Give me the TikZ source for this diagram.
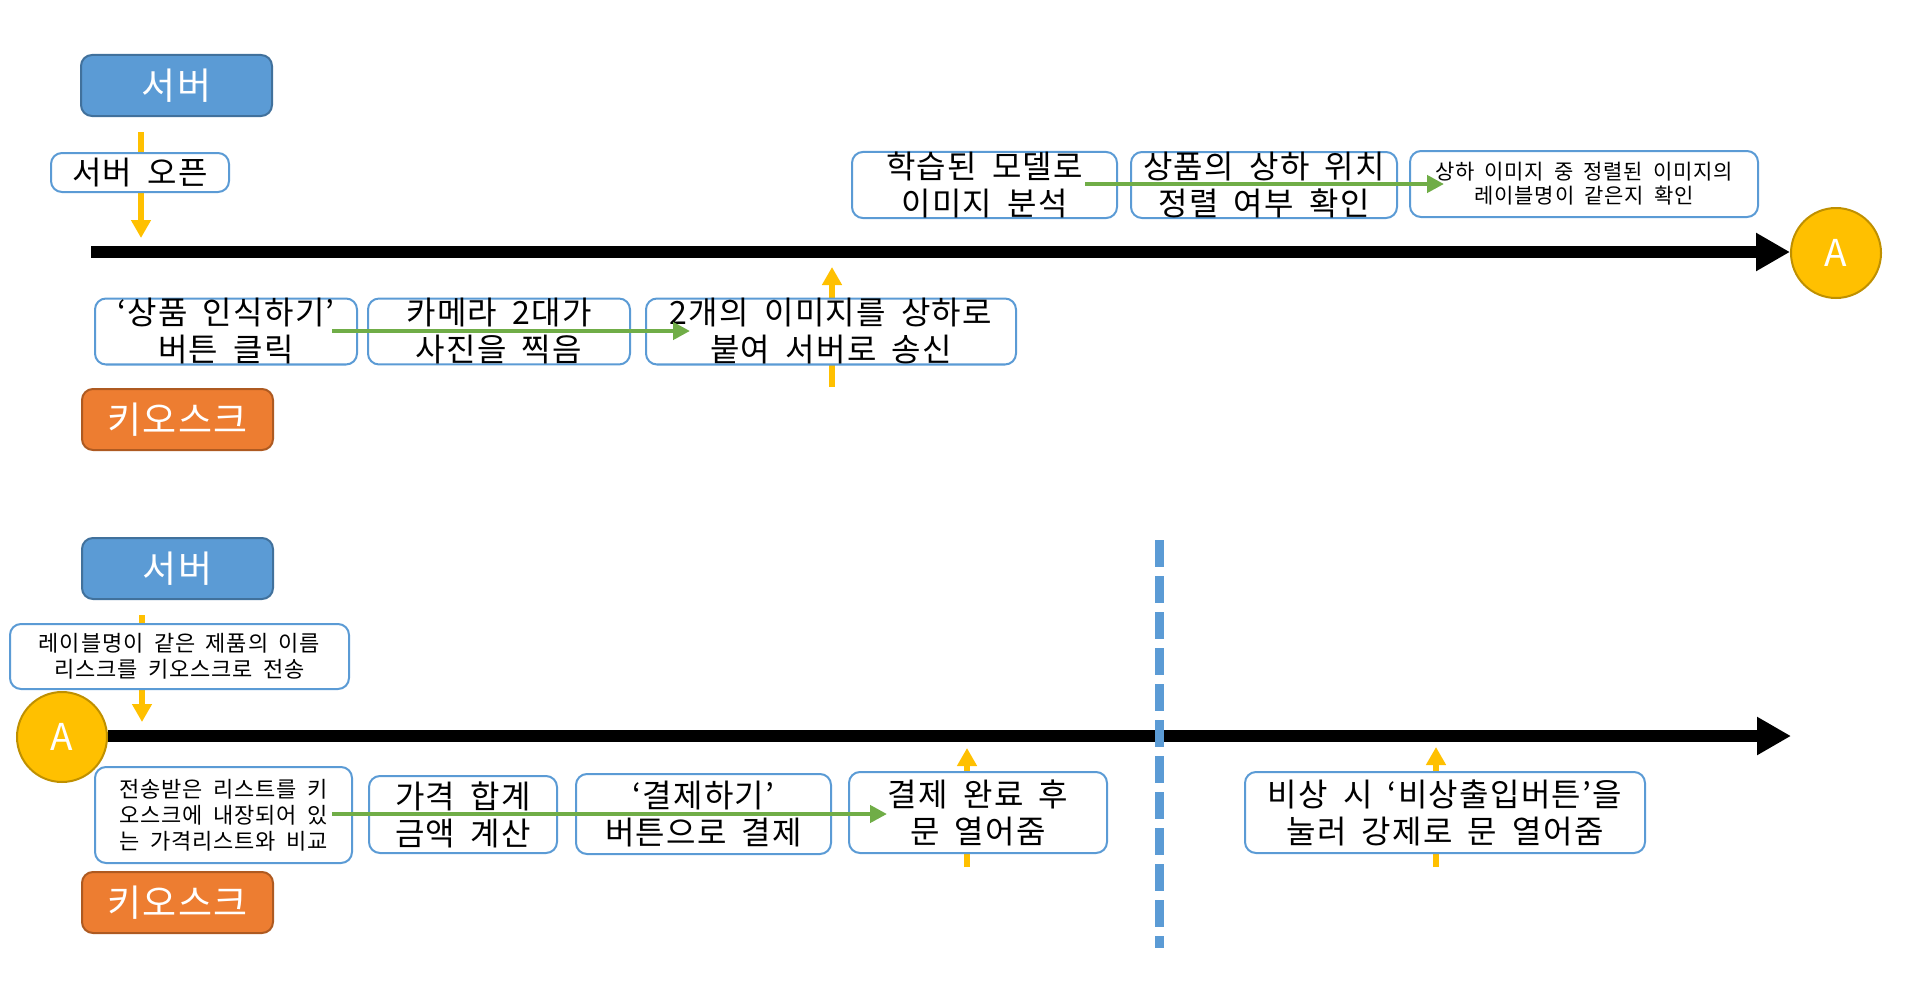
\documentclass[tikz,border=0pt]{standalone}
\usepackage{fontspec}
\setmainfont[LetterSpace=4,WordSpace=1.8]{Noto Sans CJK KR}
\usetikzlibrary{arrows.meta}
\definecolor{cblue}{HTML}{5B9BD5}
\definecolor{cblued}{HTML}{41719C}
\definecolor{corange}{HTML}{ED7D31}
\definecolor{corangee}{HTML}{AE5A21}
\definecolor{cyellow}{HTML}{FFC000}
\definecolor{cyellowd}{HTML}{BF9000}
\definecolor{cgreen}{HTML}{70AD47}
\newcommand{\FontBig}{\fontsize{37}{40}\selectfont}
\newcommand{\FontMed}{\fontsize{32}{37}\selectfont}
\newcommand{\FontSml}{\fontsize{21}{24}\selectfont}
\newcommand{\FontSmlB}{\fontsize{22}{26}\selectfont}
\tikzset{
  actor/.style={rounded corners=11pt, line width=2pt, text=white, font=\FontBig,
    minimum width=191pt, minimum height=61pt, inner sep=0pt},
  server/.style={actor, fill=cblue, draw=cblued},
  kiosk/.style={actor, fill=corange, draw=corangee},
  stepbox/.style={draw=cblue, line width=2pt, rounded corners=11pt, fill=white,
    align=center, inner sep=0pt, font=\FontMed, text=black},
  smallbox/.style={stepbox, font=\FontSml},
  yarrow/.style={draw=cyellow, line width=6pt, -{Triangle[length=18pt,width=19pt]}},
  garrow/.style={draw=cgreen, line width=4.5pt, -{Triangle[length=17pt,width=17pt]}},
  timeline/.style={draw=black, line width=12pt, -{Triangle[length=34pt,width=36pt]}},
  circA/.style={circle, fill=cyellow, draw=cyellowd, line width=2pt, minimum size=90pt,
    inner sep=0pt, text=white, font=\FontBig},
  divider/.style={draw=cblue, line width=9pt, dash pattern=on 27pt off 9pt}
}
\begin{document}
\begin{tikzpicture}[x=1pt,y=-1pt]
\useasboundingbox (0,0) rectangle (1908,998);
% ---------- top section ----------
\coordinate (y1s) at (141,132);
\coordinate (y1e) at (141,238);
\draw[yarrow] (y1s) -- (y1e);
\coordinate (y2s) at (832,387);
\coordinate (y2e) at (832,267);
\draw[yarrow] (y2s) -- (y2e);
\coordinate (t1s) at (91,252);
\coordinate (t1e) at (1790,252);
\draw[timeline] (t1s) -- (t1e);
\node[circA] (A1) at (1836,253) {A};

\node[server] (srv1) at (176.5,85.5) {서버};
\node[stepbox, minimum width=178pt, minimum height=39pt] (open) at (140,172.5) {서버 오픈};
\node[stepbox, minimum width=265pt, minimum height=66pt] (b1) at (984.5,185) {학습된 모델로\\이미지 분석};
\node[stepbox, minimum width=266pt, minimum height=66pt] (b2) at (1264,185) {상품의 상하 위치\\정렬 여부 확인};
\node[smallbox, minimum width=348pt, minimum height=66pt] (b3) at (1584,184) {상하 이미지 중 정렬된 이미지의\\레이블명이 같은지 확인};
\coordinate (g1s) at (1085,184);
\coordinate (g1e) at (1444,184);
\draw[garrow] (g1s) -- (g1e);

\node[stepbox, minimum width=262pt, minimum height=65pt] (c1) at (226,331.5) {‘상품 인식하기’\\버튼 클릭};
\node[stepbox, minimum width=262pt, minimum height=65pt] (c2) at (499,331.5) {카메라 2대가\\사진을 찍음};
\node[stepbox, minimum width=370pt, minimum height=65pt] (c3) at (831,331.5) {2개의 이미지를 상하로\\붙여 서버로 송신};
\coordinate (g2s) at (332,331);
\coordinate (g2e) at (690,331);
\draw[garrow] (g2s) -- (g2e);
\node[kiosk] (kio1) at (177.5,419.5) {키오스크};

% ---------- bottom section ----------
\coordinate (y3s) at (142,615);
\coordinate (y3e) at (142,722);
\draw[yarrow] (y3s) -- (y3e);
\coordinate (y4s) at (967,867);
\coordinate (y4e) at (967,748);
\draw[yarrow] (y4s) -- (y4e);
\coordinate (y5s) at (1436,867);
\coordinate (y5e) at (1436,747);
\draw[yarrow] (y5s) -- (y5e);

\node[circA] (A2) at (62,737) {A};
\coordinate (t2e) at (1791,736);
\draw[timeline] (A2.east |- t2e) -- (t2e);

\node[server] (srv2) at (177.5,568.5) {서버};
\node[smallbox, font=\FontSmlB, minimum width=339pt, minimum height=65pt] (lab) at (179.5,656.5) {레이블명이 같은 제품의 이름\\리스크를 키오스크로 전송};

\node[stepbox, font=\FontSmlB, align=left, minimum width=257pt, minimum height=96pt] (d1) at (223.5,815) {전송받은 리스트를 키\\오스크에 내장되어 있\\는 가격리스트와 비교};
\node[stepbox, minimum width=188pt, minimum height=77pt] (d2) at (463,814.5) {가격 합계\\금액 계산};
\node[stepbox, minimum width=255pt, minimum height=80pt] (d3) at (703.5,814) {‘결제하기’\\버튼으로 결제};
\node[stepbox, minimum width=258pt, minimum height=81pt] (d4) at (978,812.5) {결제 완료 후\\문 열어줌};
\node[stepbox, minimum width=400pt, minimum height=81pt] (d5) at (1445,812.5) {비상 시 ‘비상출입버튼’을\\눌러 강제로 문 열어줌};
\coordinate (g3s) at (332,814);
\coordinate (g3e) at (887,814);
\draw[garrow] (g3s) -- (g3e);

\coordinate (dvs) at (1159,540);
\coordinate (dve) at (1159,948);
\draw[divider] (dvs) -- (dve);

\node[kiosk] (kio2) at (177.5,902.5) {키오스크};
\end{tikzpicture}
\end{document}
